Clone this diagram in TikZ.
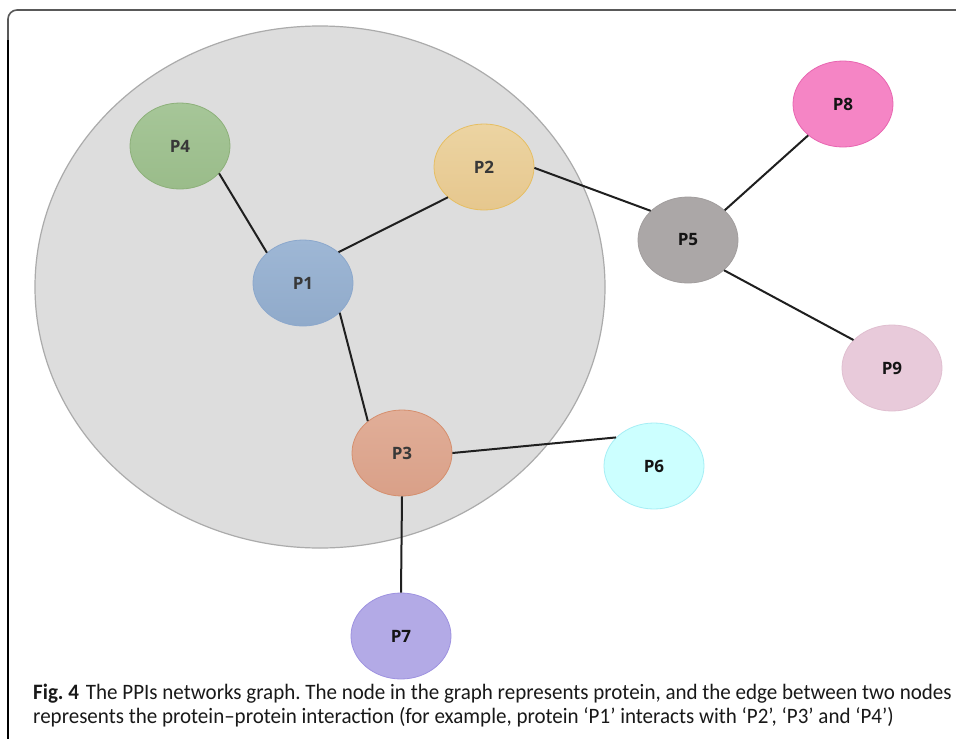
\documentclass[tikz,border=0pt]{standalone}
\usepackage{fontspec}
\setmainfont{Carlito}
\newfontfamily\capfont[FakeStretch=0.955,Ligatures=TeX]{Carlito}
\newfontfamily\lblfont{Open Sans}
\usetikzlibrary{shapes.geometric}
\definecolor{bigfill}{HTML}{DDDDDD}
\definecolor{bigdraw}{HTML}{ABABAB}
\definecolor{c4t}{HTML}{A6C698}\definecolor{c4b}{HTML}{9ABC8A}\definecolor{c4d}{HTML}{8DB07A}
\definecolor{c2t}{HTML}{ECD4A2}\definecolor{c2b}{HTML}{E6C78E}\definecolor{c2d}{HTML}{E6BE62}
\definecolor{c1t}{HTML}{9EB7D5}\definecolor{c1b}{HTML}{90AACA}\definecolor{c1d}{HTML}{8CA8CC}
\definecolor{c3t}{HTML}{E1AE98}\definecolor{c3b}{HTML}{D9A088}\definecolor{c3d}{HTML}{D58F6E}
\definecolor{c5f}{HTML}{ABA7A7}\definecolor{c5d}{HTML}{A29E9E}
\definecolor{c8f}{HTML}{F585C5}\definecolor{c8d}{HTML}{E866B1}
\definecolor{c9f}{HTML}{E8CADA}\definecolor{c9d}{HTML}{E0BFD0}
\definecolor{c6f}{HTML}{CCFFFF}\definecolor{c6d}{HTML}{A6EEF5}
\definecolor{c7f}{HTML}{B3AAE6}\definecolor{c7d}{HTML}{9E92E0}
\tikzset{
  prot/.style={ellipse, minimum width=100pt, minimum height=86pt, inner sep=0pt,
    line width=0.8pt, font=\lblfont\bfseries\fontsize{17}{17}\selectfont},
  inside/.style={text=black!78},
  outside/.style={text=black!92},
  edge/.style={line width=2pt, black!88},
  captext/.style={anchor=base west, inner sep=0pt, font=\capfont\fontsize{22}{22}\selectfont\frenchspacing, text=black!90},
}
\begin{document}
\begin{tikzpicture}[x=1pt,y=-1pt]
\useasboundingbox (0,0) rectangle (956,739);
\fill[white] (0,0) rectangle (956,739);
\draw[line width=1.6pt, black!65, rounded corners=9pt] (956,10) -- (8,10) -- (8,739);
\draw[line width=1.6pt, black] (8,40) -- (8,739);
\node[ellipse, minimum width=570pt, minimum height=522pt, fill=bigfill, draw=bigdraw, line width=1.2pt] (cell) at (320,287) {};
\node[prot, inside, top color=c4t, bottom color=c4b, draw=c4d] (P4) at (180,146) {P4};
\node[prot, inside, top color=c2t, bottom color=c2b, draw=c2d] (P2) at (484,167) {P2};
\node[prot, inside, top color=c1t, bottom color=c1b, draw=c1d] (P1) at (303,283) {P1};
\node[prot, inside, top color=c3t, bottom color=c3b, draw=c3d] (P3) at (402,453) {P3};
\node[prot, outside, fill=c5f, draw=c5d] (P5) at (688,240) {P5};
\node[prot, outside, fill=c8f, draw=c8d] (P8) at (843,104) {P8};
\node[prot, outside, fill=c9f, draw=c9d] (P9) at (892,368) {P9};
\node[prot, outside, fill=c6f, draw=c6d] (P6) at (654,466) {P6};
\node[prot, outside, fill=c7f, draw=c7d] (P7) at (401,636) {P7};
\draw[edge] (P4.-35) -- (P1.140);
\draw[edge] (P1.41) -- (P2.220);
\draw[edge] (P2.-1) -- (P5.142);
\draw[edge] (P5.39) -- (P8.222);
\draw[edge] (P5.-40) -- (P9.144);
\draw[edge] (P1.-39) -- (P3.137);
\draw[edge] (P3.0) -- (P6.143);
\draw[edge] (P3.-90) -- (P7.90);
\node[captext] (cap1) at (33,699) {\textbf{Fig. 4}\hspace{7pt}The PPIs networks graph. The node in the graph represents protein, and the edge between two nodes};
\node[captext] (cap2) at (33,723) {represents the protein–protein interaction (for example, protein ‘P1’ interacts with ‘P2’, ‘P3’ and ‘P4’)};
\end{tikzpicture}
\end{document}
